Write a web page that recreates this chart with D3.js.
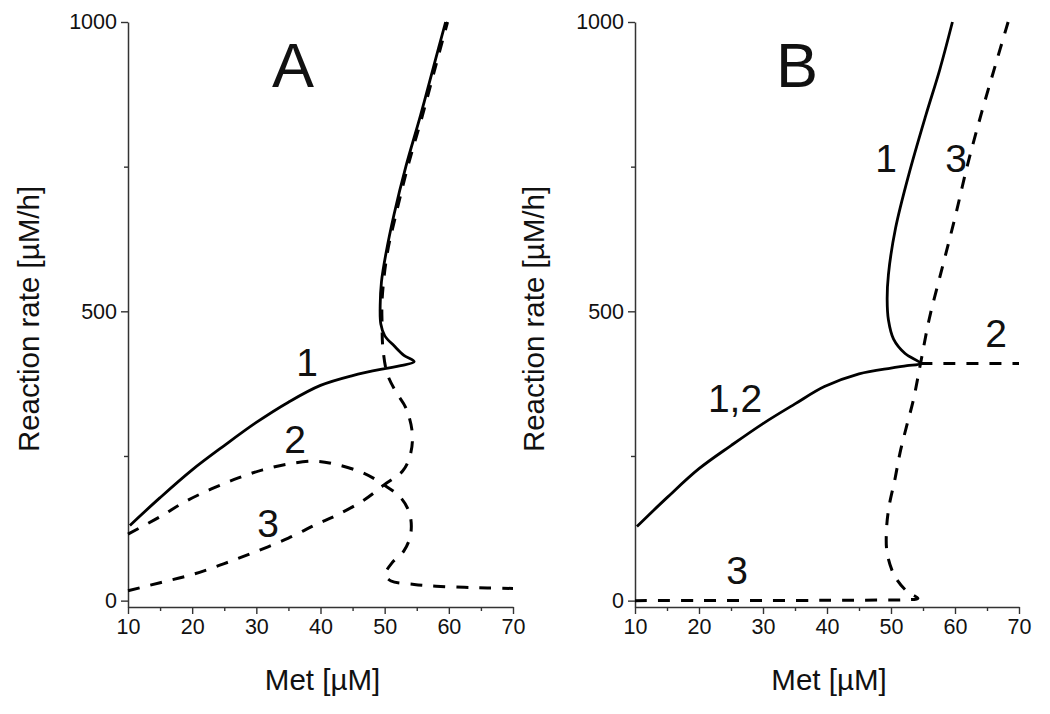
<!DOCTYPE html>
<html>
<head>
<meta charset="utf-8">
<script src="https://cdn.jsdelivr.net/npm/d3@7"></script>
<style>
  html, body { margin: 0; padding: 0; background: #fff; }
  svg { display: block; }
  text { font-family: "Liberation Sans", Arial, Helvetica, sans-serif; fill: #111; }
</style>
</head>
<body>
<svg id="chart" width="1050" height="714"></svg>
<script>
// ---------- data ----------
const xTicks = [10, 20, 30, 40, 50, 60, 70];
const xMinorTicks = [15, 25, 35, 45, 55, 65];
const yTicks = [0, 500, 1000];
const yMinorTicks = [250, 750];
const xLabel = "Met [\u00B5M]";
const yLabel = "Reaction rate [\u00B5M/h]";
const panelNames = ["A", "B"];

// Panel A curves: [Met, rate]
const a1 = [[10.3,130],[15,178],[20,226],[25,268],[30,308],[35,343],[40,372],[45,389],[50,401],[52.5,406],[54.6,413],
            [53,424],[51.5,440],[50,458],[49.4,478],[49.3,510],[49.5,551],[50.2,600],[51.45,667],[53.3,750],[55.6,839],[57.7,926],[59.5,1000]];
const a2 = [[10,115],[15,145],[18.9,171],[23,193],[27.2,212],[31,226],[35,236],[39.2,241],[42.6,235],[46.8,220],[49.9,200],
            [52.5,178],[53.9,150],[54.06,115],[53,86],[51.2,66],[50.1,45],[51,34],[54.6,28],[58,25],[62.4,23],[66,22],[70,21]];
const a3 = [[10,17],[15,31],[20,45],[25,64],[30,85],[35,108],[39.2,131],[42.6,148],[46.8,174],[49.9,200],
            [52.8,224],[54,252],[54.3,290],[53.3,333],[51.8,360],[50.4,392],[49.7,440],[49.6,475],[49.6,520],[50.4,600],[51.75,667],[53.6,750],[55.9,839],[58,926],[59.8,1000]];

// Panel B curves: [Met, rate]
const b1 = [[10.3,128],[15,178],[20,228],[25,268],[30,306],[35,340],[39.6,370],[45,392],[50,402],[52.5,406],[54.6,410],
            [52.2,427],[50.4,452],[49.6,485],[49.4,520],[49.6,564],[50.7,643],[52.8,737],[55.45,839],[57.6,917],[59.6,1000]];
const b2 = [[54.6,410],[58,410],[62,410],[66,410],[70,410]];
const b3 = [[68.3,1000],[66.3,925],[64.2,845],[62,755],[60,662],[58,575],[56,488],[54.6,409],[53.5,347],[52.4,300],[51.4,255],
            [50.6,209],[49.7,163],[49.3,123],[49.4,82],[50.6,42],[52.5,16],[54.2,4],[52,1.5],[48,1],[40,0.5],[30,0.3],[20,0.2],[10,0]];

// ---------- layout ----------
const svg = d3.select("#chart");
const yRange = [607, 22];
const y = d3.scaleLinear().domain([-11, 1000]).range(yRange);
const panels = [
  { name: panelNames[0], left: 128, right: 513, curves: [
      { data: a1, dash: null }, { data: a2, dash: "12,11" }, { data: a3, dash: "12,11" }],
    nameX: 293, yLabelX: 29,
    labels: [{t:"1", x:307, y:376}, {t:"2", x:295, y:453}, {t:"3", x:268, y:537}] },
  { name: panelNames[1], left: 635, right: 1019, curves: [
      { data: b1, dash: null }, { data: b2, dash: "12,11" }, { data: b3, dash: "12,11" }],
    nameX: 797, yLabelX: 534,
    labels: [{t:"1", x:886, y:172}, {t:"3", x:956, y:172}, {t:"2", x:996, y:347}, {t:"1,2", x:735, y:412}, {t:"3", x:737, y:584}] }
];

panels.forEach(p => {
  const x = d3.scaleLinear().domain([10, 70]).range([p.left, p.right]);
  const g = svg.append("g");

  // axes
  g.append("g").attr("transform", `translate(0,${yRange[0]})`)
    .call(d3.axisBottom(x).tickValues(xTicks).tickSize(7).tickSizeOuter(0).tickPadding(5).tickFormat(d3.format("d")));
  g.append("g").attr("transform", `translate(0,${yRange[0]})`)
    .call(d3.axisBottom(x).tickValues(xMinorTicks).tickSize(4).tickFormat(""))
    .select(".domain").remove();
  g.append("g").attr("transform", `translate(${p.left},0)`)
    .call(d3.axisLeft(y).tickValues(yTicks).tickSize(7).tickSizeOuter(0).tickPadding(4).tickFormat(d3.format("d")));
  g.append("g").attr("transform", `translate(${p.left},0)`)
    .call(d3.axisLeft(y).tickValues(yMinorTicks).tickSize(4).tickFormat(""))
    .select(".domain").remove();

  g.selectAll(".domain").attr("stroke", "#333").attr("stroke-width", 1.5);
  g.selectAll(".tick line").attr("stroke", "#333").attr("stroke-width", 1.4);
  g.selectAll(".tick text").attr("font-size", 21.5).attr("fill", "#222")
    .style("font-family", "'Liberation Sans', Arial, sans-serif");

  // axis titles
  g.append("text").attr("x", (p.left + p.right) / 2 + 2).attr("y", 690)
    .attr("text-anchor", "middle").attr("font-size", 29.5).text(xLabel);
  g.append("text").attr("transform", `translate(${p.yLabelX + 10},319) rotate(-90)`)
    .attr("text-anchor", "middle").attr("font-size", 29.5).text(yLabel);

  // curves
  const line = d3.line().x(d => x(d[0])).y(d => y(d[1])).curve(d3.curveCatmullRom.alpha(0.5));
  p.curves.forEach(c => {
    g.append("path").attr("d", line(c.data)).attr("fill", "none")
      .attr("stroke", "#000").attr("stroke-width", c.dash ? 3 : 2.8)
      .attr("stroke-dasharray", c.dash).attr("stroke-linejoin", "round");
  });

  // labels
  g.append("text").attr("x", p.nameX).attr("y", 87).attr("text-anchor", "middle")
    .attr("font-size", 63).text(p.name);
  p.labels.forEach(l => {
    g.append("text").attr("x", l.x).attr("y", l.y).attr("text-anchor", "middle")
      .attr("font-size", 39).text(l.t);
  });
});
</script>
</body>
</html>
